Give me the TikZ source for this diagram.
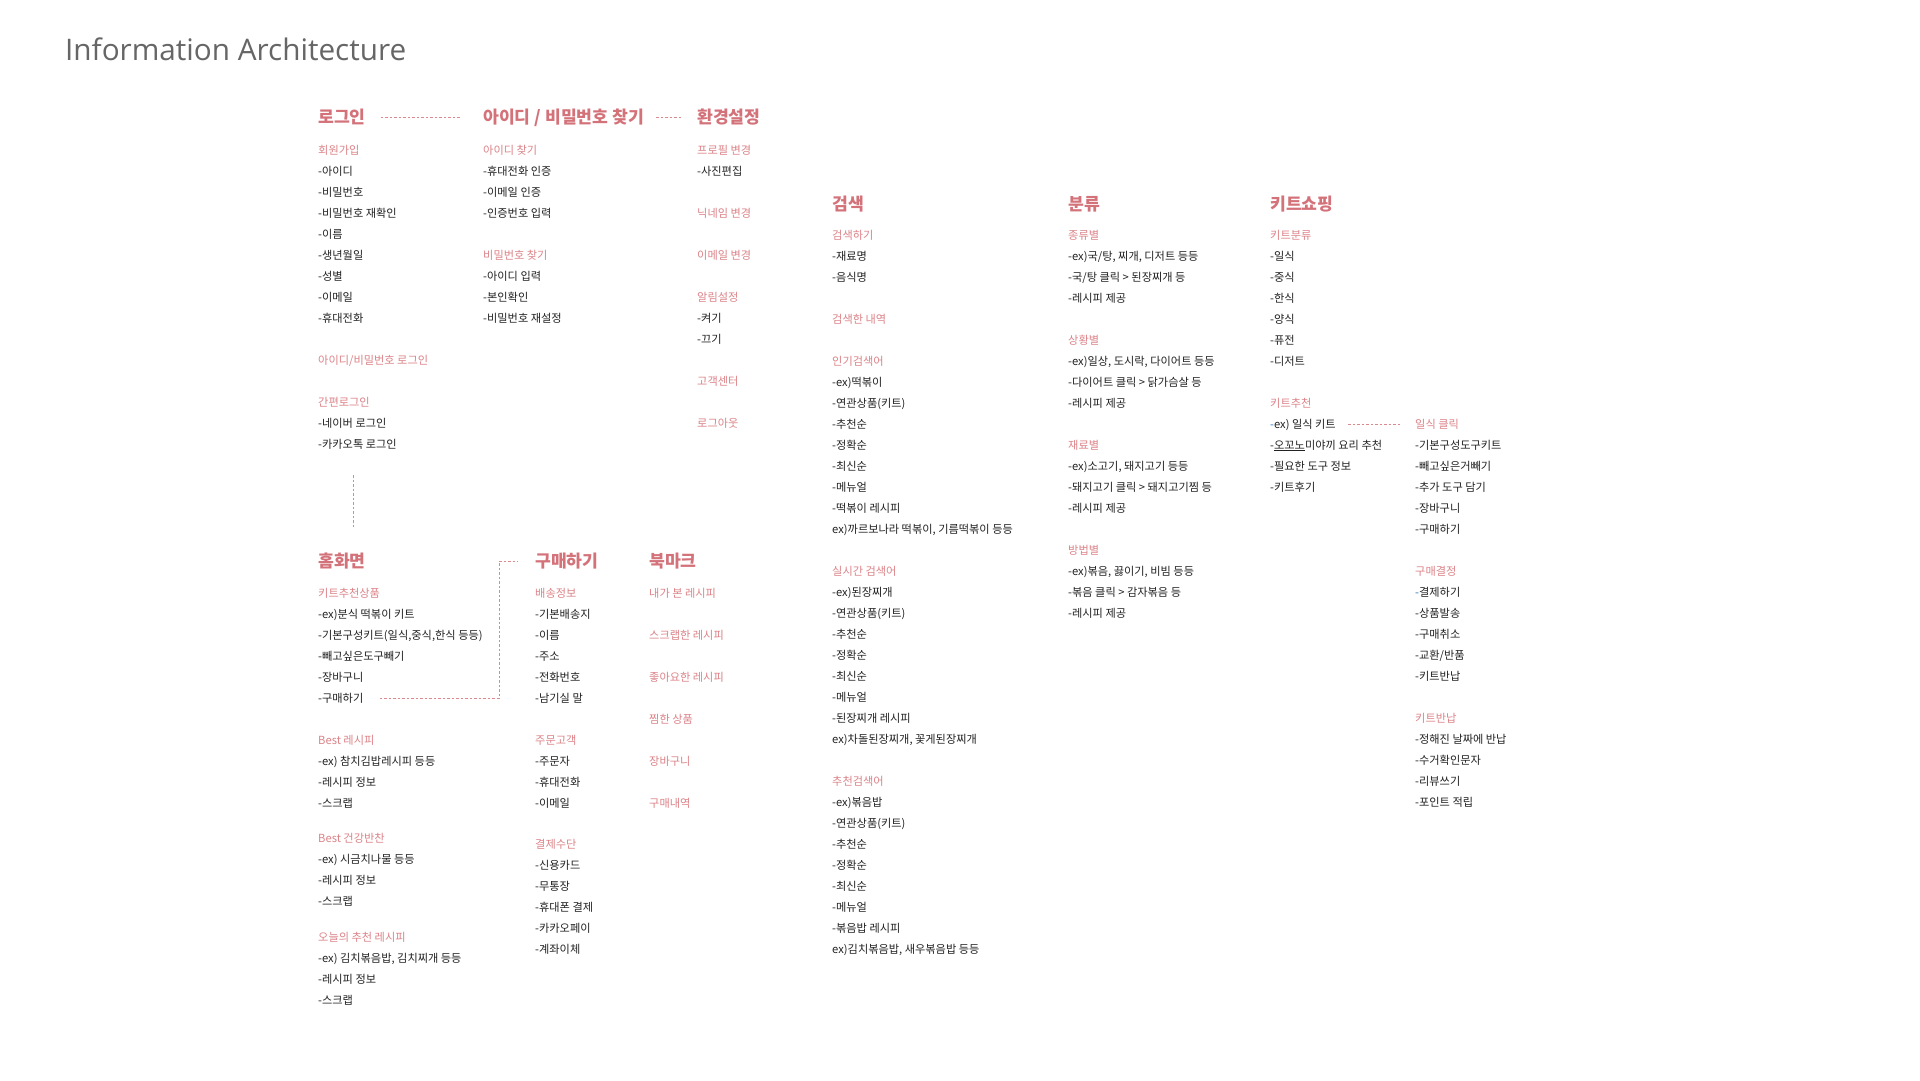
\documentclass[tikz,border=0pt]{standalone}
\usepackage{fontspec}
\setmainfont{Noto Sans CJK KR}
\newfontfamily\titlefont{Open Sans}
\definecolor{headpink}{HTML}{D4727A}
\definecolor{subpink}{HTML}{DC8388}
\definecolor{itemgray}{HTML}{222222}
\definecolor{titlegray}{HTML}{666666}
\definecolor{linkpink}{HTML}{DA8A8E}
\definecolor{markblue}{HTML}{2F78C0}
\tikzset{
	head/.style={anchor=west, inner sep=0pt, text height=12.8pt, text depth=0pt, text=headpink, font=\fontsize{17.2}{19}\selectfont\bfseries},
	sub/.style={anchor=west, inner sep=0pt, text height=8.3pt, text depth=0pt, text=subpink, font=\fontsize{11.2}{13}\selectfont},
	item/.style={anchor=west, inner sep=0pt, text height=8.3pt, text depth=0pt, text=itemgray, font=\fontsize{11.2}{13}\selectfont},
	link/.style={draw=linkpink, line width=0.8pt, dash pattern=on 2.5pt off 2pt},
}
\begin{document}
\begin{tikzpicture}[x=1pt, y=-1pt]
		%%Start of figure.
			\fill[white] (0,0) rectangle (1920,1080);
			\useasboundingbox (0,0) rectangle (1920,1080);
			\node[anchor=base west, inner sep=0pt, text=titlegray, font=\titlefont\fontsize{29.7}{34}\selectfont] (title) at (65,60) {Information Architecture};
			
			%login%
			\node[head] (login) at (318,117) {로그인};
			\node[sub] (signup) at (318,150) {회원가입};
			\node[item] (su1) at (318,171) {-아이디};
			\node[item] (su2) at (318,192) {-비밀번호};
			\node[item] (su3) at (318,213) {-비밀번호 재확인};
			\node[item] (su4) at (318,234) {-이름};
			\node[item] (su5) at (318,255) {-생년월일};
			\node[item] (su6) at (318,276) {-성별};
			\node[item] (su7) at (318,297) {-이메일};
			\node[item] (su8) at (318,318) {-휴대전화};
			\node[sub] (idlogin) at (318,360) {아이디/비밀번호 로그인};
			\node[sub] (easy) at (318,402) {간편로그인};
			\node[item] (easy1) at (318,423) {-네이버 로그인};
			\node[item] (easy2) at (318,444) {-카카오톡 로그인};
			
			%find id / pw%
			\node[head] (find) at (483,117) {아이디 / 비밀번호 찾기};
			\node[sub] (findid) at (483,150) {아이디 찾기};
			\node[item] (fi1) at (483,171) {-휴대전화 인증};
			\node[item] (fi2) at (483,192) {-이메일 인증};
			\node[item] (fi3) at (483,213) {-인증번호 입력};
			\node[sub] (findpw) at (483,255) {비밀번호 찾기};
			\node[item] (fp1) at (483,276) {-아이디 입력};
			\node[item] (fp2) at (483,297) {-본인확인};
			\node[item] (fp3) at (483,318) {-비밀번호 재설정};
			
			%settings%
			\node[head] (setting) at (697,117) {환경설정};
			\node[sub] (prof) at (697,150) {프로필 변경};
			\node[item] (prof1) at (697,171) {-사진편집};
			\node[sub] (nick) at (697,213) {닉네임 변경};
			\node[sub] (mailch) at (697,255) {이메일 변경};
			\node[sub] (alarm) at (697,297) {알림설정};
			\node[item] (alarm1) at (697,318) {-켜기};
			\node[item] (alarm2) at (697,339) {-끄기};
			\node[sub] (cs) at (697,381) {고객센터};
			\node[sub] (logout) at (697,423) {로그아웃};
			
			%search%
			\node[head] (search) at (832,204) {검색};
			\node[sub] (sdo) at (832,235) {검색하기};
			\node[item] (sdo1) at (832,256) {-재료명};
			\node[item] (sdo2) at (832,277) {-음식명};
			\node[sub] (shist) at (832,319) {검색한 내역};
			\node[sub] (pop) at (832,361) {인기검색어};
			\node[item] (pop1) at (832,382) {-ex)떡볶이};
			\node[item] (pop2) at (832,403) {-연관상품(키트)};
			\node[item] (pop3) at (832,424) {-추천순};
			\node[item] (pop4) at (832,445) {-정확순};
			\node[item] (pop5) at (832,466) {-최신순};
			\node[item] (pop6) at (832,487) {-메뉴얼};
			\node[item] (pop7) at (832,508) {-떡볶이 레시피};
			\node[item] (pop8) at (832,529) {ex)까르보나라 떡볶이, 기름떡볶이 등등};
			\node[sub] (live) at (832,571) {실시간 검색어};
			\node[item] (live1) at (832,592) {-ex)된장찌개};
			\node[item] (live2) at (832,613) {-연관상품(키트)};
			\node[item] (live3) at (832,634) {-추천순};
			\node[item] (live4) at (832,655) {-정확순};
			\node[item] (live5) at (832,676) {-최신순};
			\node[item] (live6) at (832,697) {-메뉴얼};
			\node[item] (live7) at (832,718) {-된장찌개 레시피};
			\node[item] (live8) at (832,739) {ex)차돌된장찌개, 꽃게된장찌개};
			\node[sub] (rec) at (832,781) {추천검색어};
			\node[item] (rec1) at (832,802) {-ex)볶음밥};
			\node[item] (rec2) at (832,823) {-연관상품(키트)};
			\node[item] (rec3) at (832,844) {-추천순};
			\node[item] (rec4) at (832,865) {-정확순};
			\node[item] (rec5) at (832,886) {-최신순};
			\node[item] (rec6) at (832,907) {-메뉴얼};
			\node[item] (rec7) at (832,928) {-볶음밥 레시피};
			\node[item] (rec8) at (832,949) {ex)김치볶음밥, 새우볶음밥 등등};
			
			%category%
			\node[head] (cat) at (1068,204) {분류};
			\node[sub] (kind) at (1068,235) {종류별};
			\node[item] (kind1) at (1068,256) {-ex)국/탕, 찌개, 디저트 등등};
			\node[item] (kind2) at (1068,277) {-국/탕 클릭 > 된장찌개 등};
			\node[item] (kind3) at (1068,298) {-레시피 제공};
			\node[sub] (situ) at (1068,340) {상황별};
			\node[item] (situ1) at (1068,361) {-ex)일상, 도시락, 다이어트 등등};
			\node[item] (situ2) at (1068,382) {-다이어트 클릭 > 닭가슴살 등};
			\node[item] (situ3) at (1068,403) {-레시피 제공};
			\node[sub] (ingr) at (1068,445) {재료별};
			\node[item] (ingr1) at (1068,466) {-ex)소고기, 돼지고기 등등};
			\node[item] (ingr2) at (1068,487) {-돼지고기 클릭 > 돼지고기찜 등};
			\node[item] (ingr3) at (1068,508) {-레시피 제공};
			\node[sub] (how) at (1068,550) {방법별};
			\node[item] (how1) at (1068,571) {-ex)볶음, 끓이기, 비빔 등등};
			\node[item] (how2) at (1068,592) {-볶음 클릭 > 감자볶음 등};
			\node[item] (how3) at (1068,613) {-레시피 제공};
			
			%kit shopping%
			\node[head] (kit) at (1270,204) {키트쇼핑};
			\node[sub] (kcat) at (1270,235) {키트분류};
			\node[item] (kcat1) at (1270,256) {-일식};
			\node[item] (kcat2) at (1270,277) {-중식};
			\node[item] (kcat3) at (1270,298) {-한식};
			\node[item] (kcat4) at (1270,319) {-양식};
			\node[item] (kcat5) at (1270,340) {-퓨전};
			\node[item] (kcat6) at (1270,361) {-디저트};
			\node[sub] (krec) at (1270,403) {키트추천};
			\node[item] (krec1) at (1270,424) {\textcolor{markblue}{-}ex) 일식 키트};
			\node[item] (krec2) at (1270,445) {-\underline{오꼬노}미야끼 요리 추천};
			\node[item] (krec3) at (1270,466) {-필요한 도구 정보};
			\node[item] (krec4) at (1270,487) {-키트후기};
			
			\node[sub] (jp) at (1415,424) {일식 클릭};
			\node[item] (jp1) at (1415,445) {-기본구성도구키트};
			\node[item] (jp2) at (1415,466) {-빼고싶은거빼기};
			\node[item] (jp3) at (1415,487) {-추가 도구 담기};
			\node[item] (jp4) at (1415,508) {-장바구니};
			\node[item] (jp5) at (1415,529) {-구매하기};
			\node[sub] (deci) at (1415,571) {구매결정};
			\node[item] (deci1) at (1415,592) {\textcolor{markblue}{-}결제하기};
			\node[item] (deci2) at (1415,613) {-상품발송};
			\node[item] (deci3) at (1415,634) {-구매취소};
			\node[item] (deci4) at (1415,655) {-교환/반품};
			\node[item] (deci5) at (1415,676) {-키트반납};
			\node[sub] (ret) at (1415,718) {키트반납};
			\node[item] (ret1) at (1415,739) {-정해진 날짜에 반납};
			\node[item] (ret2) at (1415,760) {-수거확인문자};
			\node[item] (ret3) at (1415,781) {-리뷰쓰기};
			\node[item] (ret4) at (1415,802) {-포인트 적립};
			
			%home%
			\node[head] (home) at (318,561) {홈화면};
			\node[sub] (hkit) at (318,593) {키트추천상품};
			\node[item] (hkit1) at (318,614) {-ex)분식 떡볶이 키트};
			\node[item] (hkit2) at (318,635) {-기본구성키트(일식,중식,한식 등등)};
			\node[item] (hkit3) at (318,656) {-빼고싶은도구빼기};
			\node[item] (hkit4) at (318,677) {-장바구니};
			\node[item] (hbuy) at (318,698) {-구매하기};
			\node[sub] (best) at (318,740) {Best 레시피};
			\node[item] (best1) at (318,761) {-ex) 참치김밥레시피 등등};
			\node[item] (best2) at (318,782) {-레시피 정보};
			\node[item] (best3) at (318,803) {-스크랩};
			\node[sub] (side) at (318,838) {Best 건강반찬};
			\node[item] (side1) at (318,859) {-ex) 시금치나물 등등};
			\node[item] (side2) at (318,880) {-레시피 정보};
			\node[item] (side3) at (318,901) {-스크랩};
			\node[sub] (today) at (318,937) {오늘의 추천 레시피};
			\node[item] (today1) at (318,958) {-ex) 김치볶음밥, 김치찌개 등등};
			\node[item] (today2) at (318,979) {-레시피 정보};
			\node[item] (today3) at (318,1000) {-스크랩};
			
			%buy%
			\node[head] (buy) at (535,561) {구매하기};
			\node[sub] (ship) at (535,593) {배송정보};
			\node[item] (ship1) at (535,614) {-기본배송지};
			\node[item] (ship2) at (535,635) {-이름};
			\node[item] (ship3) at (535,656) {-주소};
			\node[item] (ship4) at (535,677) {-전화번호};
			\node[item] (ship5) at (535,698) {-남기실 말};
			\node[sub] (cust) at (535,740) {주문고객};
			\node[item] (cust1) at (535,761) {-주문자};
			\node[item] (cust2) at (535,782) {-휴대전화};
			\node[item] (cust3) at (535,803) {-이메일};
			\node[sub] (pay) at (535,844) {결제수단};
			\node[item] (pay1) at (535,865) {-신용카드};
			\node[item] (pay2) at (535,886) {-무통장};
			\node[item] (pay3) at (535,907) {-휴대폰 결제};
			\node[item] (pay4) at (535,928) {-카카오페이};
			\node[item] (pay5) at (535,949) {-계좌이체};
			
			%bookmark%
			\node[head] (mark) at (649,561) {북마크};
			\node[sub] (mk1) at (649,593) {내가 본 레시피};
			\node[sub] (mk2) at (649,635) {스크랩한 레시피};
			\node[sub] (mk3) at (649,677) {좋아요한 레시피};
			\node[sub] (mk4) at (649,719) {찜한 상품};
			\node[sub] (mk5) at (649,761) {장바구니};
			\node[sub] (mk6) at (649,803) {구매내역};
			
			%links%
			\coordinate (drop1) at (353,475);
			\coordinate (drop2) at (353,527);
			\draw[link] ([xshift=15pt]login.east) -- ([xshift=-22pt]find.west);
			\draw[link] ([xshift=12pt]find.east) -- ([xshift=-15pt]setting.west);
			\draw[link] (drop1) -- (drop2);
			\draw[link] ([xshift=16pt]hbuy.east) -| ([xshift=-36pt]buy.west) -- ([xshift=-17pt]buy.west);
			\draw[link] ([xshift=12pt]krec1.east) -- ([xshift=-15pt]jp.west);
		\end{tikzpicture}
\end{document}
